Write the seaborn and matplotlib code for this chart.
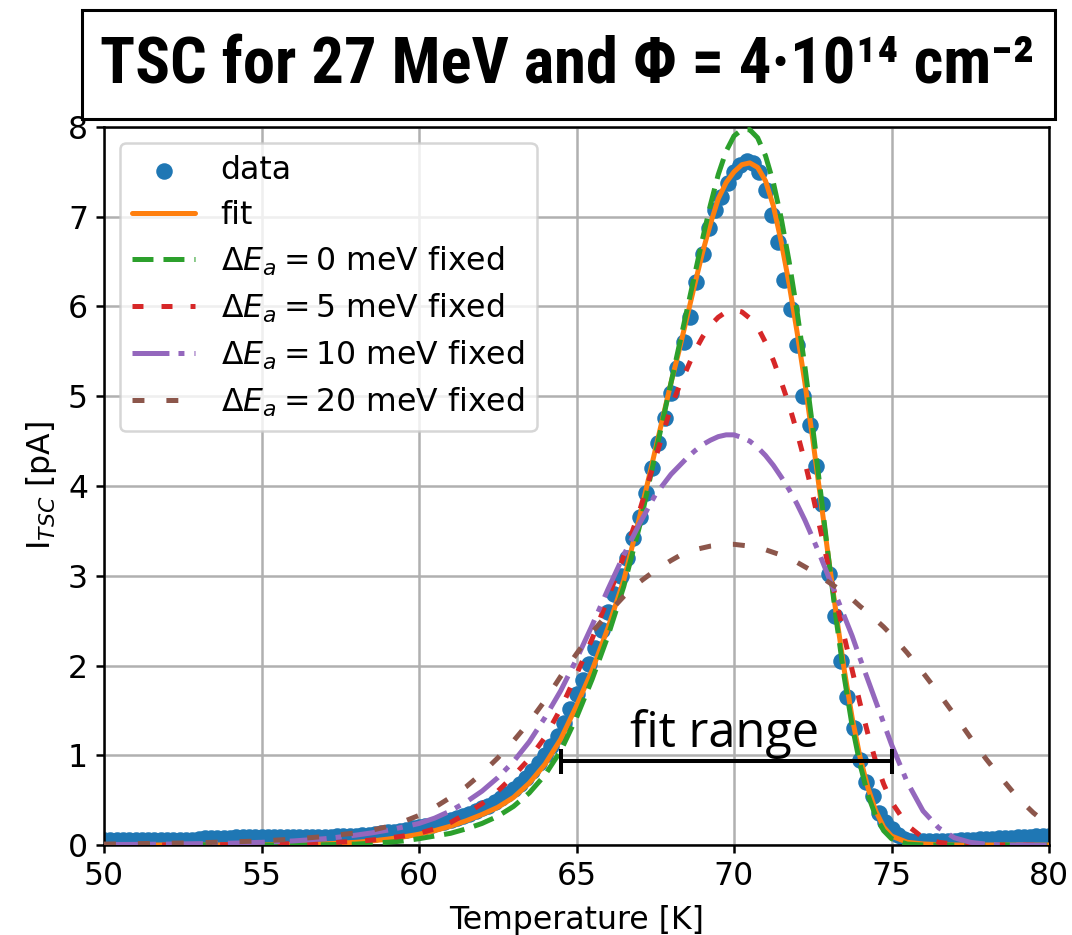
import matplotlib
matplotlib.use("Agg")
import matplotlib.pyplot as plt
from matplotlib import font_manager
from matplotlib.patches import Rectangle
import seaborn as sns

# ---------------- data ----------------
T_data = [50.0, 50.2, 50.4, 50.6, 50.8, 51.0, 51.2, 51.4, 51.6, 51.8,
          52.0, 52.2, 52.4, 52.6, 52.8, 53.0, 53.2, 53.4, 53.6, 53.8,
          54.0, 54.2, 54.4, 54.6, 54.8, 55.0, 55.2, 55.4, 55.6, 55.8,
          56.0, 56.2, 56.4, 56.6, 56.8, 57.0, 57.2, 57.4, 57.6, 57.8,
          58.0, 58.2, 58.4, 58.6, 58.8, 59.0, 59.2, 59.4, 59.6, 59.8,
          60.0, 60.2, 60.4, 60.6, 60.8, 61.0, 61.2, 61.4, 61.6, 61.8,
          62.0, 62.2, 62.4, 62.6, 62.8, 63.0, 63.2, 63.4, 63.6, 63.8,
          64.0, 64.2, 64.4, 64.6, 64.8, 65.0, 65.2, 65.4, 65.6, 65.8,
          66.0, 66.2, 66.4, 66.6, 66.8, 67.0, 67.2, 67.4, 67.6, 67.8,
          68.0, 68.2, 68.4, 68.6, 68.8, 69.0, 69.2, 69.4, 69.6, 69.8,
          70.0, 70.2, 70.4, 70.6, 70.8, 71.0, 71.2, 71.4, 71.6, 71.8,
          72.0, 72.2, 72.4, 72.6, 72.8, 73.0, 73.2, 73.4, 73.6, 73.8,
          74.0, 74.2, 74.4, 74.6, 74.8, 75.0, 75.2, 75.4, 75.6, 75.8,
          76.0, 76.2, 76.4, 76.6, 76.8, 77.0, 77.2, 77.4, 77.6, 77.8,
          78.0, 78.2, 78.4, 78.6, 78.8, 79.0, 79.2, 79.4, 79.6, 79.8, 80.0]
I_data = [0.06, 0.06, 0.06, 0.06, 0.06, 0.06, 0.06, 0.06, 0.06, 0.06,
          0.06, 0.06, 0.06, 0.06, 0.06, 0.07, 0.08, 0.08, 0.08, 0.08,
          0.08, 0.09, 0.09, 0.09, 0.09, 0.09, 0.09, 0.09, 0.09, 0.09,
          0.09, 0.09, 0.09, 0.09, 0.09, 0.09, 0.09, 0.10, 0.10, 0.10,
          0.10, 0.11, 0.11, 0.12, 0.13, 0.14, 0.15, 0.16, 0.17, 0.19,
          0.20, 0.21, 0.22, 0.24, 0.26, 0.28, 0.30, 0.32, 0.35, 0.38,
          0.41, 0.44, 0.48, 0.52, 0.57, 0.62, 0.68, 0.75, 0.82, 0.91,
          1.00, 1.10, 1.22, 1.36, 1.52, 1.68, 1.84, 2.02, 2.20, 2.40,
          2.60, 2.80, 3.00, 3.20, 3.42, 3.65, 3.92, 4.20, 4.48, 4.76,
          5.04, 5.32, 5.60, 5.88, 6.27, 6.58, 6.87, 7.08, 7.22, 7.38,
          7.50, 7.58, 7.62, 7.60, 7.50, 7.30, 7.02, 6.72, 6.30, 5.97,
          5.57, 5.00, 4.68, 4.22, 3.80, 3.02, 2.55, 2.05, 1.65, 1.30,
          0.95, 0.70, 0.55, 0.36, 0.26, 0.18, 0.11, 0.07, 0.05, 0.04,
          0.04, 0.04, 0.04, 0.04, 0.05, 0.05, 0.06, 0.06, 0.06, 0.07,
          0.07, 0.07, 0.08, 0.08, 0.08, 0.09, 0.09, 0.09, 0.10, 0.10, 0.10]

T_line = [50, 51, 52, 53, 54, 55, 56, 57, 58,
          58.5, 59, 59.5, 60, 60.5, 61, 61.5, 62, 62.5, 63, 63.5, 64, 64.5,
          65, 65.5, 66, 66.5, 67, 67.5, 68,
          68.25, 68.5, 68.75, 69, 69.25, 69.5, 69.75, 70, 70.25, 70.5, 70.75,
          71, 71.25, 71.5, 71.75, 72, 72.25, 72.5, 72.75, 73, 73.25, 73.5,
          73.75, 74, 74.25, 74.5, 74.75, 75,
          75.5, 76, 76.5, 77, 77.5, 78, 78.5, 79, 79.5, 80]

I_fit = [0.0, 0.0, 0.0, 0.0, 0.001, 0.002, 0.005, 0.012, 0.03,
         0.045, 0.065, 0.09, 0.12, 0.16, 0.21, 0.27, 0.34, 0.42, 0.53, 0.69, 0.90, 1.18,
         1.55, 1.95, 2.42, 2.95, 3.65, 4.40, 5.15,
         5.50, 5.87, 6.24, 6.60, 6.92, 7.20, 7.38, 7.50, 7.58, 7.60, 7.55,
         7.40, 7.12, 6.72, 6.25, 5.72, 5.15, 4.52, 3.86, 3.20, 2.56, 1.95,
         1.42, 0.98, 0.64, 0.38, 0.20, 0.10,
         0.03, 0.012, 0.004, 0.0, 0.0, 0.0, 0.0, 0.0, 0.0, 0.0]

I_0meV = [0.0, 0.0, 0.0, 0.0, 0.0, 0.0, 0.0, 0.003, 0.01,
          0.02, 0.03, 0.045, 0.07, 0.10, 0.13, 0.18, 0.24, 0.32, 0.43, 0.58, 0.78, 1.05,
          1.42, 1.85, 2.33, 2.88, 3.55, 4.35, 5.15,
          5.55, 5.95, 6.35, 6.75, 7.13, 7.47, 7.73, 7.90, 7.97, 7.97, 7.88,
          7.68, 7.38, 6.98, 6.50, 5.95, 5.33, 4.65, 3.93, 3.20, 2.50, 1.87,
          1.33, 0.90, 0.56, 0.32, 0.16, 0.07,
          0.01, 0.0, 0.0, 0.0, 0.0, 0.0, 0.0, 0.0, 0.0, 0.0]

I_5meV = [0.0, 0.0, 0.0, 0.002, 0.004, 0.008, 0.015, 0.025, 0.04,
          0.055, 0.075, 0.10, 0.13, 0.18, 0.25, 0.35, 0.46, 0.60, 0.77, 0.96, 1.20, 1.52,
          1.90, 2.30, 2.75, 3.22, 3.72, 4.30, 4.88,
          5.10, 5.30, 5.50, 5.66, 5.79, 5.88, 5.94, 5.96, 5.94, 5.87, 5.77,
          5.60, 5.40, 5.16, 4.90, 4.60, 4.27, 3.90, 3.50, 3.10, 2.72, 2.32,
          1.95, 1.58, 1.24, 0.93, 0.68, 0.48,
          0.22, 0.08, 0.03, 0.01, 0.0, 0.0, 0.0, 0.0, 0.0, 0.0]

I_10meV = [0.005, 0.007, 0.01, 0.015, 0.02, 0.03, 0.045, 0.07, 0.11,
           0.135, 0.165, 0.20, 0.24, 0.30, 0.38, 0.48, 0.60, 0.75, 0.93, 1.15, 1.42, 1.72,
           2.07, 2.45, 2.85, 3.23, 3.58, 3.90, 4.13,
           4.22, 4.31, 4.39, 4.46, 4.51, 4.55, 4.57, 4.57, 4.54, 4.50, 4.43,
           4.34, 4.23, 4.10, 3.96, 3.80, 3.62, 3.42, 3.21, 2.99, 2.77, 2.55,
           2.33, 2.08, 1.84, 1.60, 1.36, 1.12,
           0.70, 0.38, 0.19, 0.08, 0.03, 0.01, 0.0, 0.0, 0.0, 0.0]

I_20meV = [0.01, 0.015, 0.02, 0.025, 0.035, 0.045, 0.065, 0.095, 0.135,
           0.165, 0.205, 0.26, 0.33, 0.42, 0.53, 0.65, 0.80, 0.97, 1.16, 1.37, 1.61, 1.88,
           2.13, 2.37, 2.58, 2.77, 2.93, 3.06, 3.17,
           3.22, 3.26, 3.29, 3.31, 3.33, 3.34, 3.35, 3.35, 3.34, 3.33, 3.31,
           3.29, 3.26, 3.23, 3.19, 3.15, 3.10, 3.05, 2.99, 2.93, 2.87, 2.81,
           2.74, 2.66, 2.59, 2.51, 2.43, 2.34,
           2.14, 1.92, 1.69, 1.45, 1.20, 0.96, 0.74, 0.53, 0.36, 0.22]

labels = ["data", "fit",
          r"$\Delta E_a = 0$ meV fixed", r"$\Delta E_a = 5$ meV fixed",
          r"$\Delta E_a = 10$ meV fixed", r"$\Delta E_a = 20$ meV fixed"]
x_ticks = [50, 55, 60, 65, 70, 75, 80]
y_ticks = [0, 1, 2, 3, 4, 5, 6, 7, 8]
fit_range = [64.5, 75.0]
fit_range_y = 0.94
title_text = "TSC for 27 MeV and Φ = 4·10¹⁴ cm⁻²"

# ---------------- style ----------------
sns.set_style("ticks", {"axes.grid": True, "grid.color": "#b0b0b0",
                        "axes.edgecolor": "black", "xtick.color": "black",
                        "ytick.color": "black", "axes.labelcolor": "black",
                        "text.color": "black"})

avail = {f.name for f in font_manager.fontManager.ttflist}
title_font = "DejaVu Sans"
for cand in ["Liberation Sans Narrow", "DejaVu Sans Condensed", "Roboto Condensed",
             "Open Sans Condensed", "Liberation Sans"]:
    if cand in avail:
        title_font = cand
        break
note_font = "Open Sans" if "Open Sans" in avail else "DejaVu Sans"

plt.rcParams.update({
    "font.family": ["DejaVu Sans"],
    "font.size": 22.7,
    "mathtext.fontset": "dejavusans",
    "lines.scale_dashes": False,
    "xtick.direction": "out", "ytick.direction": "out",
    "xtick.major.size": 5.8, "ytick.major.size": 5.8,
    "xtick.major.width": 1.8, "ytick.major.width": 1.8,
    "xtick.major.pad": 5.7, "ytick.major.pad": 5.7,
    "axes.linewidth": 1.8,
    "grid.linewidth": 1.8,
    "axes.labelpad": 6.5,
})

W, H = 1072, 935
fig = plt.figure(figsize=(W / 100, H / 100), dpi=100)
ax = fig.add_axes([104 / W, 1 - 845 / H, (1049 - 104) / W, (845 - 127) / H])

blue, orange, green, red, purple, brown = sns.color_palette("tab10")[:6]
lw = 3.6

sns.scatterplot(x=T_data, y=I_data, ax=ax, s=11.9 ** 2, color=blue,
                linewidth=0, label=labels[0], zorder=2)
sns.lineplot(x=T_line, y=I_fit, ax=ax, color=orange, linewidth=lw,
             label=labels[1], zorder=3)
sns.lineplot(x=T_line, y=I_0meV, ax=ax, color=green, linewidth=lw,
             linestyle=(0, (15.1, 7.2)), label=labels[2], zorder=3)
sns.lineplot(x=T_line, y=I_5meV, ax=ax, color=red, linewidth=lw,
             linestyle=(0, (7.9, 13.0)), label=labels[3], zorder=3)
sns.lineplot(x=T_line, y=I_10meV, ax=ax, color=purple, linewidth=lw,
             linestyle=(0, (26.6, 6.5, 4.3, 7.2)), label=labels[4], zorder=3)
sns.lineplot(x=T_line, y=I_20meV, ax=ax, color=brown, linewidth=lw,
             linestyle=(0, (8.6, 15.8)), label=labels[5], zorder=3)

# fit range marker
ax.errorbar([(fit_range[0] + fit_range[1]) / 2], [fit_range_y],
            xerr=[(fit_range[1] - fit_range[0]) / 2], fmt="none",
            ecolor="black", elinewidth=2.9, capsize=9, capthick=2.9, zorder=4)
ax.text((fit_range[0] + fit_range[1]) / 2 - 0.05, fit_range_y + 0.15, "fit range",
        family=note_font, fontsize=35, ha="center", va="baseline", zorder=5)

ax.set_xlim(50, 80)
ax.set_ylim(0, 8)
ax.set_xticks(x_ticks)
ax.set_yticks(y_ticks)
ax.grid(True, color="#b0b0b0", linewidth=1.8)
ax.set_axisbelow(True)
for s in ax.spines.values():
    s.set_visible(True)
    s.set_color("black")
    s.set_linewidth(1.8)
ax.tick_params(axis="both", labelsize=22.7, length=5.8, width=1.8, colors="black")
ax.set_xlabel("Temperature [K]", fontsize=22.7, labelpad=9.5)
ax.set_ylabel(r"I$_{TSC}$ [pA]", fontsize=22.7)

handles, labs = ax.get_legend_handles_labels()
leg = ax.legend(handles, labs, loc="upper left", fontsize=22.7, frameon=True,
                framealpha=0.8, edgecolor="0.8", fancybox=True, scatterpoints=1,
                labelspacing=0.43)
leg.get_frame().set_linewidth(1.8)

# title box
fig.patches.append(Rectangle((82 / W, 1 - 119 / H), (1055 - 82) / W, (119 - 10) / H,
                             transform=fig.transFigure, facecolor="white",
                             edgecolor="black", linewidth=2.2, zorder=5))
fig.text(567 / W, 1 - 65 / H, title_text, ha="center", va="center",
         fontsize=46.5, fontweight="bold", family=[title_font, "DejaVu Sans"], zorder=6)

fig.savefig("out.png", dpi=100)
